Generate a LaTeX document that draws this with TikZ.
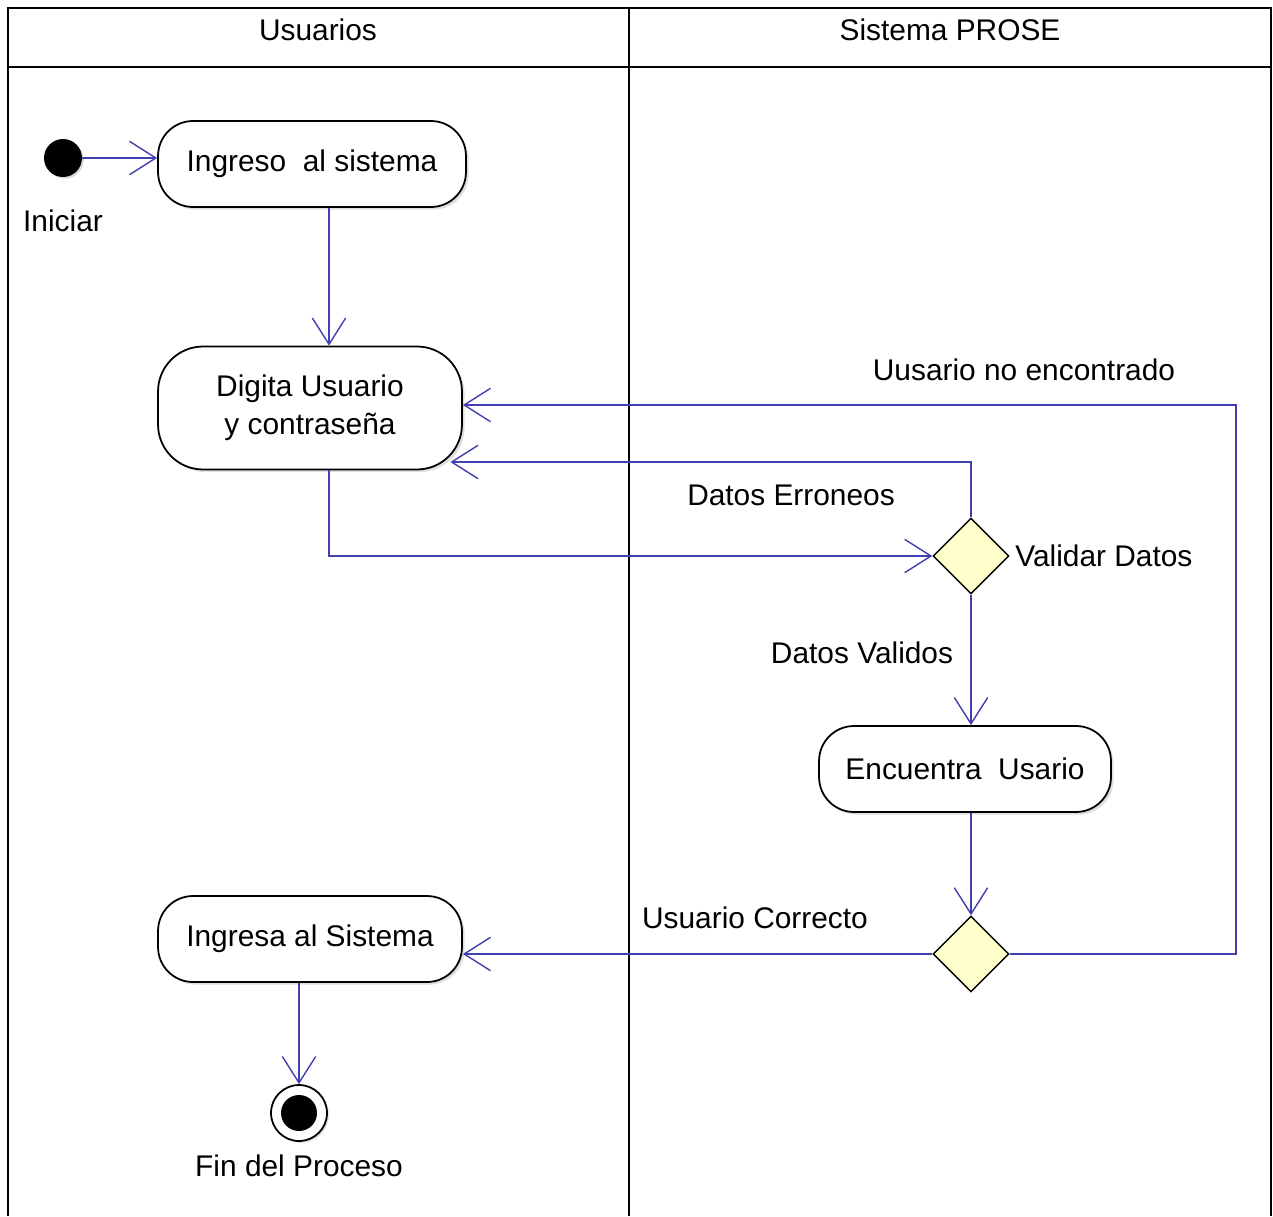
\documentclass[tikz,border=0pt]{standalone}
\usepackage{fontspec}
\setmainfont{Liberation Sans}
\usepackage{tikz}
\usetikzlibrary{arrows.meta,positioning,shapes,shadows,calc}
\newcommand{\diafont}{\fontsize{17}{21.5}\selectfont}
\tikzset{
  actbox/.style={draw, rounded corners=0.7cm, fill=white, align=center,
                 minimum width=#1, minimum height=1.72cm,
                 font=\diafont, line width=1pt, inner sep=2pt,
                 drop shadow={shadow xshift=1.5pt, shadow yshift=-1.5pt,
                              opacity=0.25}},
  actbox/.default=6.08cm,
  decbox/.style={diamond, aspect=1, draw, fill=decyellow, line width=0.8pt,
                 minimum size=1.52cm, inner sep=0pt},
  startdot/.style={circle, fill=black, minimum size=0.76cm, inner sep=0pt,
                   drop shadow={shadow xshift=1pt, shadow yshift=-1pt,
                                opacity=0.3}},
  endring/.style={circle, draw, fill=white, line width=1pt,
                  minimum size=1.12cm, inner sep=0pt,
                  drop shadow={shadow xshift=1pt, shadow yshift=-1pt,
                               opacity=0.3}},
  enddot/.style={circle, fill=black, minimum size=0.72cm, inner sep=0pt},
  lbl/.style={font=\diafont, inner sep=1pt},
  lane/.style={line width=1.2pt},
  flow/.style={draw=flowblue, line width=0.8pt,
               -{Straight Barb[length=15pt,width=19pt]}},
}
\definecolor{flowblue} {RGB}{64,64,176}
\definecolor{decyellow}{RGB}{255,255,204}

\begin{document}
\begin{tikzpicture}[x=0.02cm,y=-0.02cm]
  \useasboundingbox (0,0) rectangle (1273,1216);
  \draw[lane] (8,1216) -- (8,8) -- (1271,8) -- (1271,1216);
  \draw[lane] (8,67) -- (1271,67);
  \draw[lane] (629,8) -- (629,1216);
  \node[lbl] (usuarios) at (318,30) {Usuarios};
  \node[lbl] (sistema) at (950,30) {Sistema PROSE};

  \node[startdot] (start) at (63,158) {};
  \node[lbl, below=0.6cm of start] (iniciar) {Iniciar};
  \node[actbox=6.16cm] (ingreso) at (312,164) {Ingreso\ \ al sistema};
  \node[actbox, minimum height=2.46cm, rounded corners=0.9cm] (digita)
       at (310,408) {Digita Usuario\\y contraseña};
  \node[decbox] (validar) at (971,556) {};
  \node[lbl, right=2pt of validar] (validartxt) {Validar Datos};
  \node[actbox=5.84cm] (encuentra) at (965,769) {Encuentra\ \ Usario};
  \node[decbox] (merge) at (971,954) {};
  \node[actbox] (ingresa) at (310,939) {Ingresa al Sistema};
  \node[endring] (fin) at (299,1113) {};
  \node[enddot] (findot) at (fin) {};
  \node[lbl, below=6pt of fin] (fintxt) {Fin del Proceso};

  \coordinate (colA) at (329,0);
  \coordinate (errY) at (0,462);
  \coordinate (retX) at (1236,405);

  \draw[flow] (start.east) -- (start.east -| ingreso.west);
  \draw[flow] (ingreso.south -| colA) -- (digita.north -| colA);
  \draw[flow] (digita.south -| colA) |- (validar.west);
  \draw[flow] (validar.north) |- ([xshift=-0.25cm]digita.east |- errY);
  \draw[flow] (validar.south) -- (validar.south |- encuentra.north);
  \draw[flow] (encuentra.south -| merge) -- (merge.north);
  \draw[flow] (merge.west) -- (merge.west -| ingresa.east);
  \draw[flow] (merge.east) -| (retX) -- (retX -| digita.east);
  \draw[flow] (ingresa.south -| fin) -- (fin.north);

  \node[lbl] (erroneos) at (791,495) {Datos Erroneos};
  \node[lbl] (validos) at (862,653) {Datos Validos};
  \node[lbl] (correcto) at (755,918) {Usuario Correcto};
  \node[lbl] (noencontrado) at (1024,370) {Uusario no encontrado};
\end{tikzpicture}
\end{document}
